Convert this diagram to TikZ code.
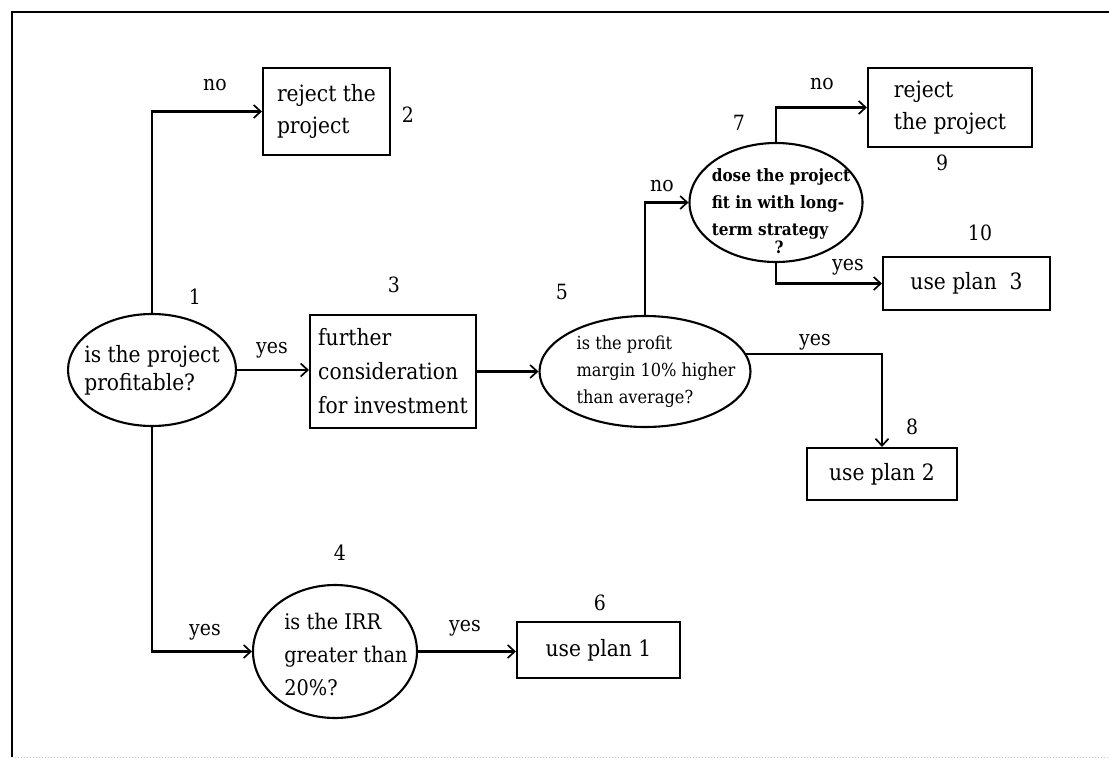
\documentclass[tikz,border=0pt]{standalone}
\usepackage{fontspec}
\setmainfont{DejaVu Serif Condensed}
\usetikzlibrary{shapes.geometric,arrows.meta}
\tikzset{
  lw/.style={line width=2.1pt},
  boxnode/.style={draw,lw,rectangle,inner ysep=0pt,align=left},
  ellnode/.style={draw,lw,ellipse,inner sep=0pt},
  arr/.style={lw,-{Straight Barb[length=7pt,width=13pt,line width=1.7pt]}},
  lbl/.style={inner sep=0pt,font=\fontsize{21}{22}\selectfont},
  txt/.style={font=\fontsize{22.5}{32}\selectfont},
}
\begin{document}
\begin{tikzpicture}[x=1pt,y=-1pt]
\useasboundingbox (0,0) rectangle (1109,760);
\fill[white] (0,0) rectangle (1109,760);
% frame
\draw[line width=1.8pt] (12,757) -- (12,12) -- (1109,12);
\draw[line width=1pt,gray!40,dotted] (12,757) -- (1109,757);

% boxes
\node[boxnode,txt,minimum width=127pt,minimum height=87pt] (b2) at (326.5,111.5) {reject the\\project};
\node[boxnode,txt,font=\fontsize{22.5}{34}\selectfont,minimum width=166pt,minimum height=113pt] (b3) at (393,371.5) {further\\consideration\\for investment};
\node[boxnode,txt,minimum width=164pt,minimum height=79pt] (b9) at (950,107.5) {reject\\the project};
\node[boxnode,txt,minimum width=167pt,minimum height=53pt,align=center] (b10) at (966.5,283.5) {use plan~~3};
\node[boxnode,txt,minimum width=150pt,minimum height=52pt,align=center] (b8) at (882,474) {use plan 2};
\node[boxnode,txt,minimum width=163pt,minimum height=56pt,align=center] (b6) at (598.5,650) {use plan 1};

% ellipses
\node[ellnode,minimum width=168pt,minimum height=112pt,
  label={[font=\fontsize{22.5}{28}\selectfont,align=left]center:is the project\\profitable?}] (e1) at (152,370) {};
\node[ellnode,minimum width=211pt,minimum height=111pt,
  label={[font=\fontsize{18}{27}\selectfont,align=left,xshift=11pt]center:is the profit\\margin 10\% higher\\than average?}] (e5) at (645,371.5) {};
\node[ellnode,minimum width=173pt,minimum height=119pt,
  label={[font=\bfseries\fontsize{17}{27}\selectfont,align=left,yshift=-9pt,xshift=5pt]center:dose the project\\fit in with long-\\term strategy\\[-9pt]\hspace*{3.7em}?}] (e7) at (776,202.5) {};
\node[ellnode,minimum width=164pt,minimum height=133pt,
  label={[font=\fontsize{21.5}{33}\selectfont,align=left,xshift=11pt,yshift=-3pt]center:is the IRR\\greater than\\20\%?}] (e4) at (335,651.5) {};

% connectors
\draw[arr] (e1.north) |- (b2.west);
\draw[arr] (e1.east) -- (e1.east -| b3.west);
\draw[arr] (b3.east) -- (b3.east -| e5.west);
\draw[arr] (e5.north) |- (e7.west);
\draw[arr] (e7.north) |- (b9.west);
\draw[arr] (e7.south) |- (b10.west);
\draw[arr] (e5.10) -| (b8.north);
\draw[arr] (e1.south) |- (e4.west);
\draw[arr] (e4.east) -- (e4.east -| b6.west);

% labels
\node[lbl] (n1) at (195,297) {1};
\node[lbl] (n2) at (408,115) {2};
\node[lbl] (n3) at (394,285) {3};
\node[lbl] (n4) at (340,553) {4};
\node[lbl] (n5) at (562,292) {5};
\node[lbl] (n6) at (600,603) {6};
\node[lbl] (n7) at (739,123) {7};
\node[lbl] (n8) at (912,427) {8};
\node[lbl] (n9) at (942,163) {9};
\node[lbl] (n10) at (980,233) {10};

\node[lbl] (no1) at (215,85) {no};
\node[lbl] (no2) at (822,84) {no};
\node[lbl] (no3) at (662,186) {no};
\node[lbl] (y1) at (272,350) {yes};
\node[lbl] (y2) at (848,267) {yes};
\node[lbl] (y3) at (815,342) {yes};
\node[lbl] (y4) at (205,632) {yes};
\node[lbl] (y5) at (465,628) {yes};
\end{tikzpicture}
\end{document}
